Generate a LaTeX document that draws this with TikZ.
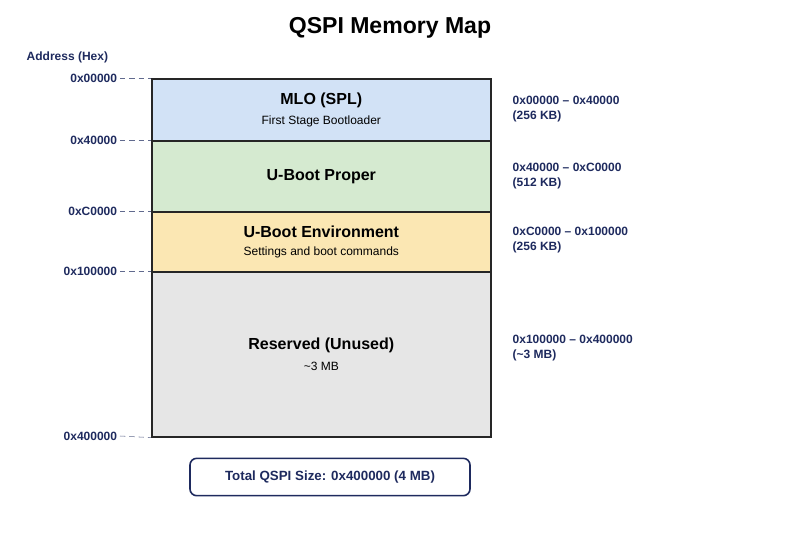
\documentclass[tikz,border=0pt]{standalone}
\usepackage{fontspec}
\setmainfont{Liberation Sans}
\begin{document}
\begin{tikzpicture}[x=0.75pt,y=-0.75pt]
  \definecolor{navy}{HTML}{1E2A5E}
  \definecolor{mloblue}{HTML}{D2E2F6}
  \definecolor{ubgreen}{HTML}{D5EAD0}
  \definecolor{envyellow}{HTML}{FBE7B3}
  \definecolor{resgray}{HTML}{E6E6E6}
  \tikzstyle{region}=[draw=black!85, line width=1.2pt, minimum width=254.25pt, inner sep=0pt, anchor=north west, align=center]
  \tikzstyle{addr}=[anchor=east, text=navy, font=\bfseries\small, inner sep=2pt]
  \tikzstyle{span}=[anchor=west, text=navy, font=\bfseries\small, align=left]
  \tikzstyle{tick}=[draw=navy!70, dashed, dash pattern=on 4pt off 3pt]

  \useasboundingbox (0,0) rectangle (800,533);

  \node[font=\bfseries\LARGE] (title) at (390,28) {QSPI Memory Map};
  \node[text=navy, font=\bfseries\small, anchor=west] (head) at (22,57) {Address (Hex)};

  \node[region, fill=mloblue, minimum height=46.5pt] (mlo) at (151,78)
    {{\bfseries\large MLO (SPL)}\\[3pt]{\small First Stage Bootloader}};
  \node[region, fill=ubgreen, minimum height=53.25pt] (uboot) at (151,140)
    {{\bfseries\large U-Boot Proper}};
  \node[region, fill=envyellow, minimum height=45pt] (env) at (151,211)
    {{\bfseries\large U-Boot Environment}\\[2pt]{\small Settings and boot commands}};
  \node[region, fill=resgray, minimum height=123.75pt] (res) at (151,271)
    {{\bfseries\large Reserved (Unused)}\\[4pt]{\small \textasciitilde3 MB}};

  \node[addr] (a0) at (120,78)  {0x00000};
  \node[addr] (a1) at (120,140) {0x40000};
  \node[addr] (a2) at (120,211) {0xC0000};
  \node[addr] (a3) at (120,271) {0x100000};
  \node[addr] (a4) at (120,436) {0x400000};

  \draw[tick] (a0.east) -- (mlo.north west);
  \draw[tick] (a1.east) -- (uboot.north west);
  \draw[tick] (a2.east) -- (env.north west);
  \draw[tick] (a3.east) -- (res.north west);
  \draw[tick] (a4.east) -- (res.south west);

  \node[span] (r0) at (508,109) {0x00000 -- 0x40000\\(256 KB)};
  \node[span] (r1) at (508,176) {0x40000 -- 0xC0000\\(512 KB)};
  \node[span] (r2) at (508,240) {0xC0000 -- 0x100000\\(256 KB)};
  \node[span] (r3) at (508,348) {0x100000 -- 0x400000\\(\textasciitilde3 MB)};

  \node[draw=navy, line width=1.2pt, rounded corners=5pt, text=navy, font=\bfseries,
        minimum width=210pt, minimum height=28pt] (total) at (330,477)
    {Total QSPI Size: 0x400000 (4 MB)};
\end{tikzpicture}
\end{document}
